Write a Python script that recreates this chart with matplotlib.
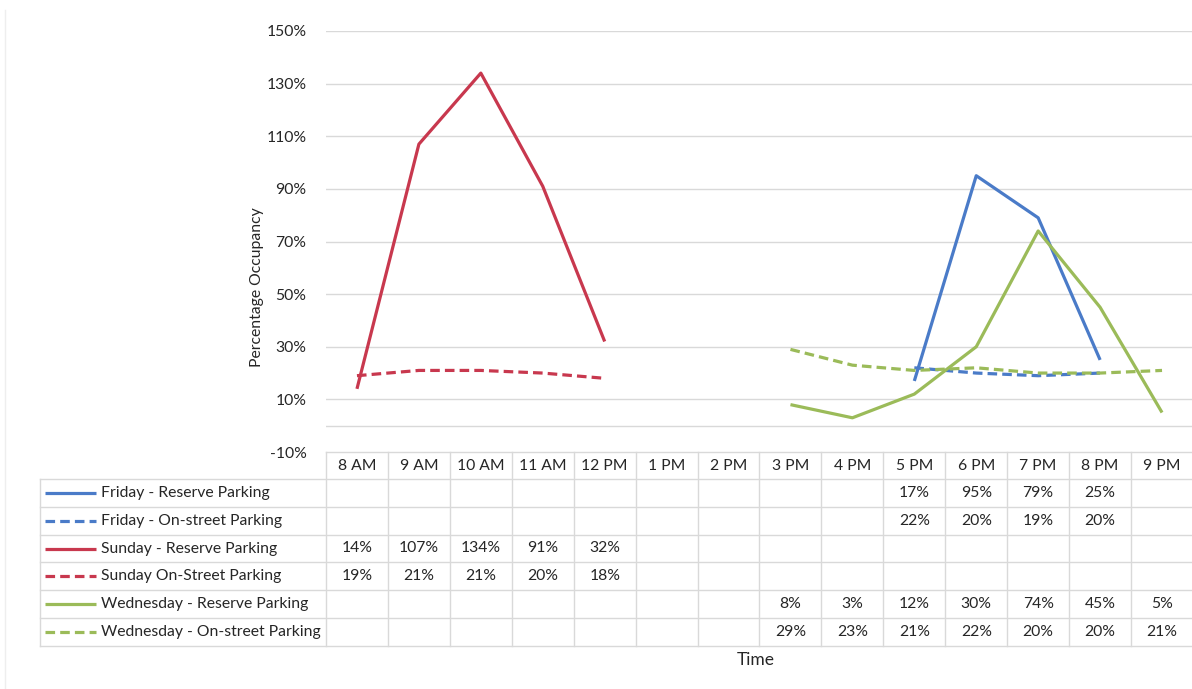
import matplotlib.pyplot as plt
from matplotlib.lines import Line2D
import matplotlib.transforms as mtransforms
import numpy as np

plt.rcParams['font.family'] = ['Lato', 'DejaVu Sans']

# hours of the survey day
times = ['8 AM', '9 AM', '10 AM', '11 AM', '12 PM', '1 PM', '2 PM',
         '3 PM', '4 PM', '5 PM', '6 PM', '7 PM', '8 PM', '9 PM']

# occupancy in percent, None = not surveyed
friday_reserve = [None] * 9 + [17, 95, 79, 25, None]
friday_street = [None] * 9 + [22, 20, 19, 20, None]
sunday_reserve = [14, 107, 134, 91, 32] + [None] * 9
sunday_street = [19, 21, 21, 20, 18] + [None] * 9
wed_reserve = [None] * 7 + [8, 3, 12, 30, 74, 45, 5]
wed_street = [None] * 7 + [29, 23, 21, 22, 20, 20, 21]

series_names = ['Friday - Reserve Parking', 'Friday - On-street Parking',
                'Sunday - Reserve Parking', 'Sunday On-Street Parking',
                'Wednesday - Reserve Parking', 'Wednesday - On-street Parking']
series_values = [friday_reserve, friday_street, sunday_reserve,
                 sunday_street, wed_reserve, wed_street]

BLUE = '#4A7BC8'
RED = '#C8384E'
GREEN = '#9BBB59'
DASH = (0, (3, 1.6))
styles = [(BLUE, '-'), (BLUE, DASH), (RED, '-'), (RED, DASH),
          (GREEN, '-'), (GREEN, DASH)]

FS = 11.3
TXT = '#262626'

W, H = 1192, 689
fig = plt.figure(figsize=(W / 100, H / 100), dpi=100)
fig.patch.set_facecolor('white')

def fx(px):
    return px / W

def fy(py):
    return 1 - py / H

ax = fig.add_axes([fx(326), fy(452), fx(1193) - fx(326), fy(31) - fy(452)])
x = np.arange(len(times))

for vals, (color, ls) in zip(series_values, styles):
    y = np.array([np.nan if v is None else v for v in vals], dtype=float)
    ax.plot(x, y, color=color, linestyle=ls, lw=2.3, solid_capstyle='butt')

ax.set_xlim(-0.5, len(times) - 0.5)
ax.set_ylim(-10, 150)
yt = np.arange(-10, 151, 20)
ax.set_yticks(yt)
ax.set_yticklabels([f'{v}%' for v in yt], fontsize=FS, color=TXT)
ax.set_xticks([])
ax.tick_params(axis='y', length=0, pad=14)
for v in yt[1:]:
    ax.axhline(v, color='#D9D9D9', lw=1, zorder=0)
ax.axhline(0, color='#D9D9D9', lw=1, zorder=0)
for s in ax.spines.values():
    s.set_visible(False)
ax.set_ylabel('Percentage Occupancy', fontsize=FS, color=TXT)
ax.yaxis.set_label_coords(-0.072, 0.392)

# data table below the plot
trans = mtransforms.blended_transform_factory(ax.transData, fig.transFigure)
grid_c = '#D9D9D9'
header_y = 466
row_tops = [479 + 27.8 * i for i in range(7)]
fig.add_artist(Line2D([fx(326), fx(1193)], [fy(452), fy(452)], color=grid_c, lw=1))
for top in row_tops:
    fig.add_artist(Line2D([fx(40), fx(1193)], [fy(top), fy(top)], color=grid_c, lw=1))
fig.add_artist(Line2D([fx(40), fx(40)], [fy(row_tops[0]), fy(row_tops[-1])],
                      color=grid_c, lw=1))
for k in range(len(times) + 1):
    ax_x = k - 0.5
    fig.add_artist(Line2D([ax_x, ax_x], [fy(452), fy(row_tops[-1])],
                          color=grid_c, lw=1, transform=trans))

for i, t in enumerate(times):
    fig.text(i, fy(header_y), t, transform=trans, ha='center', va='center',
             fontsize=FS, color=TXT)

for r, (name, vals, (color, ls)) in enumerate(zip(series_names, series_values, styles)):
    yc = fy(row_tops[r] + 13.9)
    fig.add_artist(Line2D([fx(45), fx(96)], [yc, yc], color=color, linestyle=ls,
                          lw=2.3, solid_capstyle='butt'))
    fig.text(fx(101), yc, name, ha='left', va='center', fontsize=FS, color=TXT)
    for i, v in enumerate(vals):
        if v is not None:
            fig.text(i, yc, f'{v}%', transform=trans, ha='center', va='center',
                     fontsize=FS, color=TXT)

fig.text(fx(756), fy(660), 'Time', ha='center', va='center', fontsize=12.5, color=TXT)

# faint chart border on the left
fig.add_artist(Line2D([fx(5), fx(5)], [fy(10), fy(689)], color='#EEEEEE', lw=1))

fig.savefig('out.png', dpi=100)
